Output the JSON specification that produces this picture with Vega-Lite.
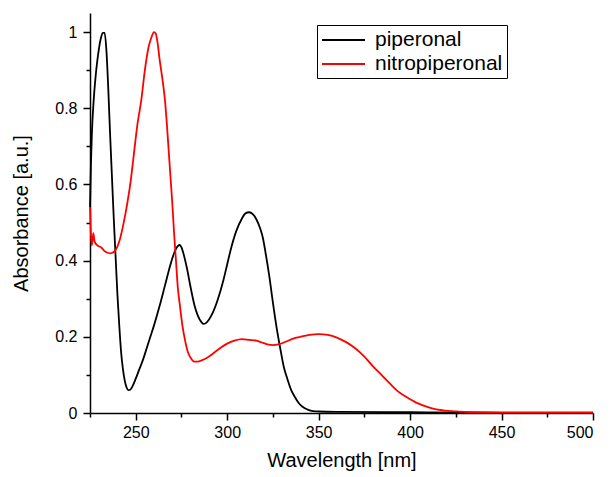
{
 "$schema": "https://vega.github.io/schema/vega-lite/v6.json",
 "width": 503, "height": 400,
 "autosize": {"type": "none"},
 "padding": {"left": 90, "top": 13, "right": 18, "bottom": 64},
 "datasets": {
  "spec": [
   {"s":"piperonal","wl":225,"A":0.54},{"s":"piperonal","wl":225.5,"A":0.65},{"s":"piperonal","wl":226,"A":0.73},{"s":"piperonal","wl":227,"A":0.82},{"s":"piperonal","wl":228,"A":0.88},{"s":"piperonal","wl":229,"A":0.925},{"s":"piperonal","wl":230,"A":0.96},{"s":"piperonal","wl":231,"A":0.985},{"s":"piperonal","wl":232,"A":0.998},{"s":"piperonal","wl":233,"A":0.998},{"s":"piperonal","wl":234,"A":0.95},{"s":"piperonal","wl":235,"A":0.85},{"s":"piperonal","wl":236,"A":0.73},{"s":"piperonal","wl":237,"A":0.62},{"s":"piperonal","wl":238,"A":0.51},{"s":"piperonal","wl":239,"A":0.41},{"s":"piperonal","wl":240,"A":0.31},{"s":"piperonal","wl":241,"A":0.23},{"s":"piperonal","wl":242,"A":0.16},{"s":"piperonal","wl":243,"A":0.115},{"s":"piperonal","wl":244,"A":0.085},{"s":"piperonal","wl":245,"A":0.067},{"s":"piperonal","wl":246,"A":0.06},{"s":"piperonal","wl":247,"A":0.061},{"s":"piperonal","wl":248,"A":0.068},{"s":"piperonal","wl":250,"A":0.09},{"s":"piperonal","wl":252,"A":0.115},{"s":"piperonal","wl":254,"A":0.14},{"s":"piperonal","wl":256,"A":0.17},{"s":"piperonal","wl":258,"A":0.2},{"s":"piperonal","wl":260,"A":0.23},{"s":"piperonal","wl":263,"A":0.28},{"s":"piperonal","wl":266,"A":0.335},{"s":"piperonal","wl":269,"A":0.39},{"s":"piperonal","wl":271,"A":0.42},{"s":"piperonal","wl":273,"A":0.438},{"s":"piperonal","wl":274,"A":0.441},{"s":"piperonal","wl":275,"A":0.435},{"s":"piperonal","wl":276,"A":0.42},{"s":"piperonal","wl":278,"A":0.38},{"s":"piperonal","wl":280,"A":0.33},{"s":"piperonal","wl":282,"A":0.285},{"s":"piperonal","wl":284,"A":0.255},{"s":"piperonal","wl":286,"A":0.238},{"s":"piperonal","wl":287,"A":0.234},{"s":"piperonal","wl":288,"A":0.235},{"s":"piperonal","wl":290,"A":0.245},{"s":"piperonal","wl":292,"A":0.262},{"s":"piperonal","wl":295,"A":0.3},{"s":"piperonal","wl":298,"A":0.35},{"s":"piperonal","wl":300,"A":0.39},{"s":"piperonal","wl":302,"A":0.43},{"s":"piperonal","wl":305,"A":0.478},{"s":"piperonal","wl":308,"A":0.51},{"s":"piperonal","wl":310,"A":0.524},{"s":"piperonal","wl":312,"A":0.527},{"s":"piperonal","wl":314,"A":0.522},{"s":"piperonal","wl":316,"A":0.508},{"s":"piperonal","wl":318,"A":0.485},{"s":"piperonal","wl":319.5,"A":0.46},{"s":"piperonal","wl":321,"A":0.42},{"s":"piperonal","wl":323,"A":0.36},{"s":"piperonal","wl":325,"A":0.29},{"s":"piperonal","wl":327,"A":0.225},{"s":"piperonal","wl":329,"A":0.17},{"s":"piperonal","wl":331,"A":0.12},{"s":"piperonal","wl":333,"A":0.088},{"s":"piperonal","wl":335,"A":0.06},{"s":"piperonal","wl":337,"A":0.042},{"s":"piperonal","wl":339,"A":0.027},{"s":"piperonal","wl":341,"A":0.017},{"s":"piperonal","wl":344,"A":0.009},{"s":"piperonal","wl":347,"A":0.005},{"s":"piperonal","wl":350,"A":0.004},{"s":"piperonal","wl":360,"A":0.003},{"s":"piperonal","wl":400,"A":0.002},{"s":"piperonal","wl":450,"A":0.001},{"s":"piperonal","wl":500,"A":0.001},
   {"s":"nitropiperonal","wl":225,"A":0.54},{"s":"nitropiperonal","wl":225.5,"A":0.47},{"s":"nitropiperonal","wl":226,"A":0.44},{"s":"nitropiperonal","wl":226.8,"A":0.472},{"s":"nitropiperonal","wl":227.5,"A":0.45},{"s":"nitropiperonal","wl":229,"A":0.44},{"s":"nitropiperonal","wl":231,"A":0.435},{"s":"nitropiperonal","wl":233,"A":0.425},{"s":"nitropiperonal","wl":235,"A":0.42},{"s":"nitropiperonal","wl":236,"A":0.419},{"s":"nitropiperonal","wl":237,"A":0.42},{"s":"nitropiperonal","wl":239,"A":0.428},{"s":"nitropiperonal","wl":241,"A":0.45},{"s":"nitropiperonal","wl":243,"A":0.49},{"s":"nitropiperonal","wl":245,"A":0.54},{"s":"nitropiperonal","wl":247,"A":0.6},{"s":"nitropiperonal","wl":249,"A":0.68},{"s":"nitropiperonal","wl":251,"A":0.76},{"s":"nitropiperonal","wl":253,"A":0.82},{"s":"nitropiperonal","wl":255,"A":0.9},{"s":"nitropiperonal","wl":257,"A":0.96},{"s":"nitropiperonal","wl":258.5,"A":0.985},{"s":"nitropiperonal","wl":260,"A":1.0},{"s":"nitropiperonal","wl":261,"A":0.995},{"s":"nitropiperonal","wl":262,"A":0.97},{"s":"nitropiperonal","wl":263,"A":0.93},{"s":"nitropiperonal","wl":264.5,"A":0.88},{"s":"nitropiperonal","wl":266,"A":0.82},{"s":"nitropiperonal","wl":267,"A":0.76},{"s":"nitropiperonal","wl":268,"A":0.69},{"s":"nitropiperonal","wl":269,"A":0.62},{"s":"nitropiperonal","wl":270,"A":0.55},{"s":"nitropiperonal","wl":271,"A":0.47},{"s":"nitropiperonal","wl":272,"A":0.4},{"s":"nitropiperonal","wl":273,"A":0.33},{"s":"nitropiperonal","wl":274.2,"A":0.28},{"s":"nitropiperonal","wl":275.5,"A":0.23},{"s":"nitropiperonal","wl":277,"A":0.19},{"s":"nitropiperonal","wl":278.5,"A":0.16},{"s":"nitropiperonal","wl":280,"A":0.145},{"s":"nitropiperonal","wl":282,"A":0.135},{"s":"nitropiperonal","wl":284,"A":0.135},{"s":"nitropiperonal","wl":286,"A":0.138},{"s":"nitropiperonal","wl":289,"A":0.145},{"s":"nitropiperonal","wl":292,"A":0.155},{"s":"nitropiperonal","wl":296,"A":0.17},{"s":"nitropiperonal","wl":300,"A":0.182},{"s":"nitropiperonal","wl":304,"A":0.19},{"s":"nitropiperonal","wl":308,"A":0.194},{"s":"nitropiperonal","wl":312,"A":0.192},{"s":"nitropiperonal","wl":316,"A":0.19},{"s":"nitropiperonal","wl":319,"A":0.185},{"s":"nitropiperonal","wl":322,"A":0.18},{"s":"nitropiperonal","wl":325,"A":0.178},{"s":"nitropiperonal","wl":328,"A":0.18},{"s":"nitropiperonal","wl":332,"A":0.187},{"s":"nitropiperonal","wl":336,"A":0.195},{"s":"nitropiperonal","wl":340,"A":0.2},{"s":"nitropiperonal","wl":345,"A":0.205},{"s":"nitropiperonal","wl":350,"A":0.207},{"s":"nitropiperonal","wl":355,"A":0.205},{"s":"nitropiperonal","wl":360,"A":0.198},{"s":"nitropiperonal","wl":365,"A":0.186},{"s":"nitropiperonal","wl":370,"A":0.17},{"s":"nitropiperonal","wl":375,"A":0.148},{"s":"nitropiperonal","wl":380,"A":0.121},{"s":"nitropiperonal","wl":385,"A":0.097},{"s":"nitropiperonal","wl":389,"A":0.077},{"s":"nitropiperonal","wl":393,"A":0.058},{"s":"nitropiperonal","wl":398,"A":0.042},{"s":"nitropiperonal","wl":403,"A":0.028},{"s":"nitropiperonal","wl":407,"A":0.02},{"s":"nitropiperonal","wl":412,"A":0.012},{"s":"nitropiperonal","wl":418,"A":0.007},{"s":"nitropiperonal","wl":425,"A":0.004},{"s":"nitropiperonal","wl":435,"A":0.002},{"s":"nitropiperonal","wl":450,"A":0.001},{"s":"nitropiperonal","wl":500,"A":0.001}
  ]
 },
 "data": {"name": "spec"},
 "config": {
  "view": {"stroke": null},
  "font": "Liberation Sans",
  "axis": {"grid": false, "domainColor": "black", "tickColor": "black", "labelColor": "black", "titleColor": "black", "labelFont": "Liberation Sans", "titleFont": "Liberation Sans", "titleFontWeight": "normal", "labelFontSize": 16, "titleFontSize": 20, "domainWidth": 1.5, "tickWidth": 1.5}
 },
 "layer": [
  {
   "mark": {"type": "line", "interpolate": "monotone", "strokeWidth": 1.8},
   "encoding": {
    "x": {"field": "wl", "type": "quantitative", "scale": {"domain": [225, 500], "nice": false, "zero": false},
          "axis": {"orient": "bottom", "values": [250, 300, 350, 400, 450, 500], "format": "d", "tickSize": 7, "title": "Wavelength [nm]", "labelPadding": 4, "titlePadding": 10}},
    "y": {"field": "A", "type": "quantitative", "scale": {"domain": [0, 1.05], "nice": false},
          "axis": {"orient": "left", "values": [0, 0.2, 0.4, 0.6, 0.8, 1], "format": "~g", "tickSize": 7, "title": "Absorbance [a.u.]", "labelPadding": 6, "titlePadding": 23}},
    "color": {"field": "s", "type": "nominal",
              "scale": {"domain": ["piperonal", "nitropiperonal"], "range": ["#000000", "#ff0000"]},
              "legend": {"orient": "none", "legendX": 227, "legendY": 12, "title": null, "symbolType": "M-1,0H3.3", "symbolSize": 400, "symbolStrokeWidth": 1.8, "labelFontSize": 21, "labelFont": "Liberation Sans", "labelColor": "black", "strokeColor": "black", "padding": 4, "rowPadding": 3, "labelOffset": 32}}
   }
  },
  {
   "mark": {"type": "line", "opacity": 0},
   "encoding": {
    "x": {"field": "wl", "type": "quantitative",
          "axis": {"orient": "bottom", "values": [225, 275, 325, 375, 425, 475], "tickSize": 4, "labels": false, "domain": false, "title": null}},
    "y": {"field": "A", "type": "quantitative",
          "axis": {"orient": "left", "values": [0.1, 0.3, 0.5, 0.7, 0.9], "tickSize": 4, "labels": false, "domain": false, "title": null}},
    "detail": {"field": "s"}
   }
  }
 ],
 "resolve": {"axis": {"x": "independent", "y": "independent"}}
}
